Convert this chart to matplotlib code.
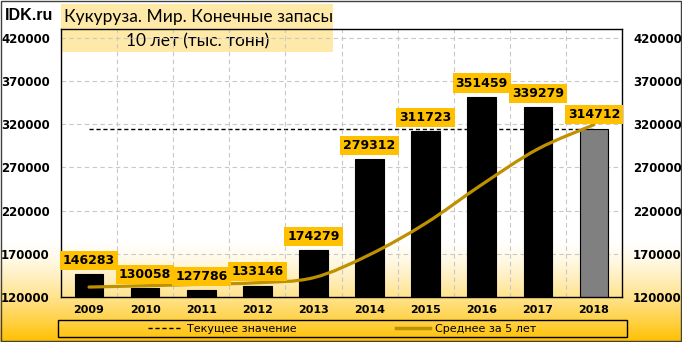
import matplotlib.pyplot as plt
import numpy as np
from matplotlib.patches import Rectangle
from matplotlib.path import Path
from matplotlib.patches import PathPatch
from matplotlib.lines import Line2D

# Кукуруза. Мир. Конечные запасы, тыс. тонн

years = ['2009', '2010', '2011', '2012', '2013', '2014', '2015', '2016', '2017', '2018']
stocks = [146283, 130058, 127786, 133146, 174279, 279312, 311723, 351459, 339279, 314712]
avg5 = [131500, 133000, 134700, 136500, 142310, 168916, 205249, 249984, 291210, 319297]
current = 314712
yticks = [120000, 170000, 220000, 270000, 320000, 370000, 420000]

gold = '#BF9000'
label_bg = '#FFC000'

fig = plt.figure(figsize=(6.82, 3.42), dpi=100)

# фон с градиентом снизу
bg = fig.add_axes([0, 0, 1, 1], zorder=-5)
bg.set_xlim(0, 1)
bg.set_ylim(0, 1)
bg.axis('off')
h = np.linspace(0, 1, 400)
t = np.clip(1 - h / 0.3, 0, 1) ** 1.4
top = np.array([1.0, 1.0, 1.0])
bottom = np.array([1.0, 192 / 255, 0.0])
grad = (top[None, :] * (1 - t[:, None]) + bottom[None, :] * t[:, None])[:, None, :]
bg.imshow(grad, extent=[0, 1, 0, 1], origin='lower', aspect='auto')
bg.add_patch(Rectangle((0.0015, 0.003), 0.997, 0.994, fill=False, ec='#404040', lw=1))
bg.add_patch(Rectangle((61 / 682, 1 - 52 / 342), 272 / 682, 48 / 342, fc='#FFE699',
                       ec='none', alpha=0.85))
bg.text(64 / 682, 1 - 17 / 342, 'Кукуруза. Мир. Конечные запасы', fontsize=12.5,
        family='Lato', va='center', ha='left')
bg.text(198 / 682, 1 - 41 / 342, '10 лет (тыс. тонн)', fontsize=12.5,
        family='Lato', va='center', ha='center')
bg.text(5 / 682, 1 - 16 / 342, 'IDK.ru', fontsize=11.5, family='Liberation Sans',
        weight='bold', va='center', ha='left')

ax = fig.add_axes([61 / 682, 45 / 342, 561 / 682, 268 / 342])
ax.set_facecolor('none')
x = np.arange(len(years))

colors = ['black'] * (len(years) - 1) + ['#808080']
ax.hlines(current, x[0], x[-1], colors='black', linestyles=(0, (3, 2)), lw=1, zorder=1)
ax.bar(x, stocks, width=0.51, color=colors, edgecolor='black', lw=0.8, zorder=2)

# сглаженная линия среднего (кривые Безье через точки)
verts = [(x[0], avg5[0])]
codes = [Path.MOVETO]
pts = np.column_stack([x, avg5]).astype(float)
for i in range(len(pts) - 1):
    p0 = pts[i - 1] if i > 0 else pts[i]
    p1, p2 = pts[i], pts[i + 1]
    p3 = pts[i + 2] if i + 2 < len(pts) else pts[i + 1]
    c1 = p1 + (p2 - p0) / 6
    c2 = p2 - (p3 - p1) / 6
    verts += [tuple(c1), tuple(c2), tuple(p2)]
    codes += [Path.CURVE4] * 3
ax.add_patch(PathPatch(Path(verts, codes), fc='none', ec=gold, lw=2.3, zorder=3,
                       capstyle='round'))

for xi, v in zip(x, stocks):
    ax.annotate(f'{v}', (xi, v), xytext=(0, 10), textcoords='offset points',
                ha='center', va='center', fontsize=9, weight='bold', zorder=5,
                bbox=dict(boxstyle='square,pad=0.25', fc=label_bg, ec='none'))

ax.set_xlim(-0.5, 9.5)
ax.set_ylim(120000, 430000)
ax.set_yticks(yticks)
ax.set_xticks(x)
ax.set_xticklabels(years, fontsize=8, weight='bold')
ax.set_xticks(x[:-1] + 0.5, minor=True)
ax.tick_params(axis='y', which='both', length=0, labelsize=8.5, labelleft=True,
               labelright=True, pad=8)
ax.tick_params(axis='x', which='both', length=0, pad=6)
for lab in ax.get_yticklabels():
    lab.set_fontweight('bold')
ax.grid(axis='y', ls=(0, (4, 3)), color='#C8C8C8', lw=0.8, zorder=0)
ax.grid(axis='x', which='minor', ls=(0, (4, 3)), color='#C8C8C8', lw=0.8, zorder=0)
for s in ax.spines.values():
    s.set_color('black')
    s.set_linewidth(1)

# легенда
bg.add_patch(Rectangle((58 / 682, 5 / 342), 569 / 682, 17 / 342, fill=False,
                       ec='black', lw=1))
handles = [Line2D([], [], color='black', ls=(0, (3, 2)), lw=1),
           Line2D([], [], color=gold, lw=2.5)]
fig.legend(handles, ['Текущее значение', 'Среднее за 5 лет'], loc='center',
           bbox_to_anchor=(342 / 682, 13.5 / 342), ncol=2, frameon=False, fontsize=8,
           handlelength=3, handletextpad=0.5, columnspacing=9)

fig.savefig('out.png', dpi=100)
